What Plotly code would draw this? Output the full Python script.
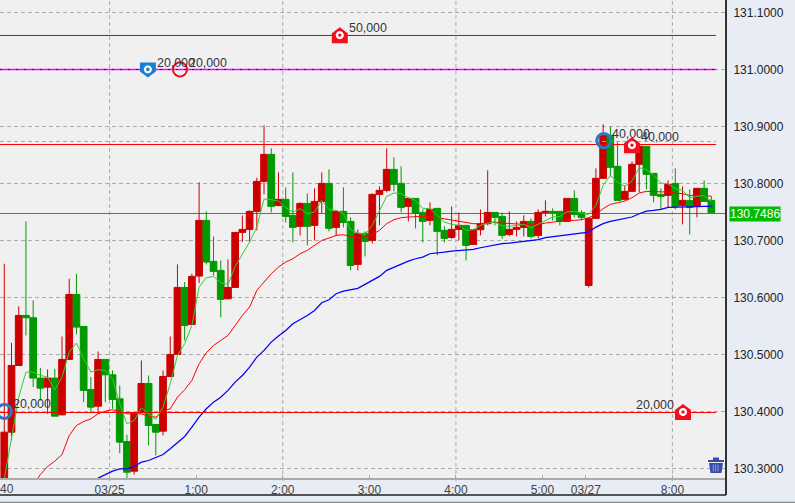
import math
import plotly.graph_objects as go

# --- data: 5-minute candles (prices) ---
opens = [130.27,130.3636,130.4806,130.5684,130.5643,130.4584,130.4426,130.4584,130.394,130.4912,
130.6052,130.5491,130.4385,130.4092,130.4912,130.4642,130.4221,130.3472,130.2952,130.3976,
130.449,130.3771,130.3654,130.4613,130.5,130.6175,130.5526,130.6374,130.7351,130.6631,
130.6474,130.5976,130.6175,130.714,130.7193,130.7509,130.8035,130.8509,130.7614,130.772,
130.7439,130.7246,130.7649,130.7263,130.7684,130.8,130.7228,130.7509,130.7333,130.6579,
130.7123,130.7,130.7807,130.7878,130.8246,130.8,130.7597,130.7737,130.7491,130.7351,
130.7562,130.7176,130.7053,130.7193,130.7263,130.693,130.7187,130.7293,130.7491,130.7421,
130.7105,130.7193,130.7228,130.7333,130.7088,130.7491,130.7509,130.7509,130.7333,130.7737,
130.7491,130.621,130.7386,130.8088,130.8843,130.8299,130.772,130.786,130.8334,130.865,
130.8176,130.7807,130.779,130.8,130.7614,130.7702,130.7597,130.7913,130.7702]
highs = [130.659,130.5204,130.5842,130.7333,130.5947,130.4765,130.4736,130.4748,130.5315,130.6327,
130.6415,130.5491,130.4602,130.5052,130.4912,130.4719,130.4455,130.359,130.3976,130.4894,
130.4631,130.3771,130.4719,130.5315,130.6579,130.6269,130.6415,130.8018,130.7509,130.707,
130.6649,130.6667,130.7146,130.7439,130.7527,130.81,130.9018,130.8615,130.8193,130.793,
130.8193,130.7667,130.7825,130.7913,130.8193,130.8246,130.7527,130.793,130.7404,130.7193,
130.7158,130.7825,130.7948,130.8615,130.8457,130.8299,130.7737,130.7737,130.7544,130.7667,
130.7562,130.7246,130.7597,130.7491,130.7263,130.7187,130.7544,130.8229,130.7491,130.7491,
130.7509,130.7333,130.7439,130.7386,130.7544,130.7702,130.7562,130.7509,130.7737,130.7878,
130.7527,130.7404,130.8264,130.9036,130.9,130.872,130.7965,130.8386,130.865,130.865,
130.8176,130.7913,130.8053,130.8264,130.7948,130.7895,130.7913,130.8053,130.7772]
lows = [130.26,130.349,130.4806,130.5333,130.4426,130.4192,130.3958,130.3917,130.3929,130.4912,
130.535,130.4163,130.3987,130.3958,130.4163,130.4046,130.3268,130.2829,130.2893,130.3976,
130.3402,130.3227,130.3578,130.4613,130.5,130.5245,130.5526,130.6251,130.6579,130.6386,
130.5654,130.5965,130.6163,130.6971,130.6971,130.7176,130.7807,130.7491,130.7597,130.7316,
130.6965,130.7088,130.6912,130.7,130.7474,130.7158,130.7088,130.7228,130.6474,130.6474,
130.6719,130.6947,130.7263,130.7842,130.786,130.7491,130.7333,130.7211,130.6965,130.7263,
130.6737,130.6965,130.7023,130.7,130.6649,130.693,130.7088,130.7263,130.7263,130.7029,
130.707,130.707,130.707,130.7035,130.7035,130.7421,130.7351,130.7263,130.7333,130.7404,
130.7351,130.6175,130.7386,130.8088,130.8123,130.7702,130.7702,130.786,130.7842,130.7895,
130.7667,130.7544,130.7579,130.7544,130.7281,130.7105,130.7404,130.7684,130.7486]
closes = [130.3636,130.4806,130.5684,130.5643,130.4584,130.4408,130.4584,130.3917,130.4912,130.6052,
130.5479,130.4368,130.4075,130.4912,130.4642,130.421,130.3461,130.2934,130.3976,130.449,
130.3753,130.3636,130.4613,130.5,130.6175,130.5508,130.6368,130.7351,130.662,130.6456,
130.5965,130.6175,130.714,130.7193,130.7509,130.8035,130.8509,130.7597,130.772,130.7421,
130.7228,130.7649,130.7246,130.7684,130.8,130.7211,130.7509,130.7316,130.6561,130.7123,
130.6982,130.7807,130.7878,130.8246,130.7983,130.7579,130.7737,130.7474,130.7333,130.7544,
130.7158,130.7035,130.7193,130.7263,130.6912,130.7187,130.7293,130.7491,130.7404,130.7088,
130.7193,130.7228,130.7333,130.707,130.7491,130.7509,130.7491,130.7333,130.7737,130.7456,
130.7404,130.7386,130.8088,130.8843,130.8281,130.7702,130.786,130.8334,130.865,130.8158,
130.779,130.7772,130.7983,130.7597,130.7702,130.7579,130.7913,130.7684,130.7486]
candle_index = list(range(len(opens)))

ma_fast = [130.2817,130.3549,130.425,130.4689,130.4689,130.4631,130.4602,130.4379,130.4602,130.504,
130.5198,130.4923,130.4689,130.473,130.4719,130.4572,130.4134,130.3783,130.3841,130.4063,
130.3958,130.3859,130.4075,130.4485,130.4982,130.5187,130.5508,130.6181,130.6345,130.6368,
130.6257,130.6228,130.6544,130.6766,130.6971,130.7234,130.7725,130.7714,130.769,130.7573,
130.7497,130.7556,130.7468,130.7497,130.7702,130.7538,130.7527,130.7468,130.7187,130.7129,
130.7105,130.7263,130.7527,130.7772,130.7831,130.7819,130.7749,130.7702,130.7562,130.7556,
130.7439,130.7322,130.7281,130.7263,130.7176,130.7187,130.7263,130.7304,130.7322,130.7257,
130.7246,130.7263,130.7281,130.7222,130.7281,130.7351,130.741,130.7421,130.7503,130.7509,
130.748,130.7456,130.7614,130.7965,130.8141,130.8024,130.7948,130.8041,130.8275,130.824,
130.8141,130.8006,130.7995,130.7907,130.7878,130.7749,130.7772,130.779,130.769]
ma_mid = [None,None,None,None,130.27,130.2893,130.3034,130.3127,130.3244,130.3578,
130.3753,130.3823,130.387,130.3958,130.4005,130.4028,130.4005,130.3958,130.3958,130.3958,
130.3917,130.3899,130.4005,130.4046,130.425,130.4379,130.4543,130.4836,130.5029,130.5157,
130.5245,130.5333,130.5508,130.5684,130.583,130.6123,130.6269,130.6415,130.6532,130.662,
130.6678,130.6766,130.6825,130.6912,130.7,130.7041,130.7088,130.7099,130.707,130.7047,
130.7059,130.7105,130.7176,130.7293,130.7363,130.7398,130.741,130.7421,130.7421,130.7421,
130.7398,130.7374,130.7351,130.7333,130.7304,130.7293,130.7293,130.731,130.7322,130.7304,
130.7293,130.7281,130.7281,130.7281,130.7281,130.7304,130.7322,130.7333,130.7351,130.7351,
130.7363,130.7398,130.7456,130.7556,130.7632,130.7661,130.769,130.7749,130.7831,130.786,
130.786,130.7848,130.7848,130.7831,130.7819,130.779,130.779,130.779,130.7772]
ma_slow = [None,None,None,None,None,None,None,None,None,None,
None,None,None,130.2829,130.2893,130.2952,130.2993,130.2993,130.3034,130.311,
130.3139,130.3186,130.3244,130.3344,130.3461,130.356,130.3724,130.3899,130.4046,130.4163,
130.425,130.4368,130.4514,130.4631,130.4777,130.4953,130.507,130.5216,130.5321,130.542,
130.5537,130.5608,130.5684,130.5772,130.5906,130.5959,130.6064,130.6111,130.6128,130.6158,
130.6228,130.6298,130.6368,130.6474,130.6532,130.6591,130.6637,130.6678,130.6708,130.6766,
130.6777,130.6795,130.6813,130.6825,130.6836,130.6842,130.6871,130.6895,130.693,130.6942,
130.6953,130.6965,130.6982,130.6994,130.7012,130.7047,130.7064,130.7082,130.7105,130.7123,
130.7135,130.7146,130.7234,130.7293,130.7333,130.7363,130.738,130.741,130.7468,130.7515,
130.7527,130.7544,130.7579,130.7579,130.7585,130.7585,130.7591,130.7597,130.7597]

price_ticks = [130.3,130.4,130.5,130.6,130.7,130.8,130.9,131.0,131.1]
time_ticks = [14.6,26.6,38.6,50.6,62.6,74.6,80.6,92.6]
time_labels = ["03/25","1:00","2:00","3:00","4:00","5:00","03/27","8:00"]
grid_times = [14.6,38.6,62.6,92.6]
last_price = 130.7486
last_line = 130.7472

# order lines: price, colour, dash, width
order_lines = [(131.0595,"#e00000",None,1),(130.9998,"#ff00ff",None,1.4),(130.9998,"#0000ff","2px,6px",1),
               (130.8735,"#22ddee","4px,3px",1),(130.8682,"#ff0000",None,1),(130.3981,"#ff0000",None,1)]
# order markers: candle position, price, kind, label, label dx, label dy
order_marks = [(46.5,131.06,"house","50,000",7,7),(19.9,131.0,"flag","20,000",7,6),
               (24.35,131.0,"ring_red","20,000",7,6),(83.1,130.875,"ring_blue","40,000",6,7),
               (87.0,130.867,"house","40,000",7,8),(94.07,130.399,"house","20,000",-49,7),
               (0.0,130.4,"ring_blue","20,000",7,7)]

PLOT_W, PLOT_H = 726, 478
fig = go.Figure()
fig.add_trace(go.Candlestick(
    x=candle_index, open=opens, high=highs, low=lows, close=closes, whiskerwidth=0,
    increasing=dict(line=dict(color="#cc0000",width=1),fillcolor="#cc0000"),
    decreasing=dict(line=dict(color="#009900",width=1),fillcolor="#009900"),
    hoverinfo="skip", showlegend=False))
for vals,col,w in [(ma_slow,"#0000ff",1.25),(ma_mid,"#ff0000",1),(ma_fast,"#33cc33",1)]:
    fig.add_trace(go.Scatter(x=candle_index,y=vals,mode="lines",line=dict(color=col,width=w),
                             hoverinfo="skip",showlegend=False))

shapes = []
GRID = "#aaaaaa"
for t in grid_times:
    shapes.append(dict(type="line",xref="x",yref="paper",x0=t,x1=t,y0=-3/PLOT_H,y1=1,layer="below",
                       line=dict(color=GRID,width=1,dash="4px,3px")))
shapes.append(dict(type="line",xref="paper",yref="y",x0=0,x1=1,y0=last_line,y1=last_line,layer="below",
                   line=dict(color="#11aa11",width=1)))
for p,c,d,w in order_lines:
    shapes.append(dict(type="line",xref="x",yref="y",x0=-0.6,x1=98.65,y0=p,y1=p,layer="above",
                       line=dict(color=c,width=w,dash=d or "solid")))

def pix(x,y,path,fill=None,line=None,width=0):
    return dict(type="path",xref="x",yref="y",xsizemode="pixel",ysizemode="pixel",xanchor=x,yanchor=y,
                path=path,fillcolor=fill or "rgba(0,0,0,0)",
                line=dict(color=line or "rgba(0,0,0,0)",width=width),layer="above")
def circ(r):
    pts = [(r*math.cos(2*math.pi*k/28), r*math.sin(2*math.pi*k/28)) for k in range(28)]
    return "M" + " L".join(f"{a:.2f},{b:.2f}" for a,b in pts) + " Z"

annots = []
for x,p,kind,label,dx,dy in order_marks:
    if kind=="house":
        shapes.append(pix(x,p,"M-8,-8 L8,-8 L8,2 L0,8 L-8,2 Z","#f01020"))
        shapes.append(pix(x,p,circ(4),"#ffffff"))
        shapes.append(pix(x,p,circ(1.6),"#e01020"))
    elif kind=="flag":
        shapes.append(pix(x,p,"M-8,7 L8,7 L8,-2 L0,-8 L-8,-2 Z","#1a7fd0"))
        shapes.append(pix(x,p,circ(4),"#ffffff"))
        shapes.append(pix(x,p,circ(1.8),"#1a7fd0"))
    elif kind=="ring_red":
        shapes.append(pix(x,p,circ(7),None,"#f01020",2))
    else:
        shapes.append(pix(x,p,circ(7),None,"#2a78c8",3))
    annots.append(dict(x=x,y=p,xref="x",yref="y",text=label,showarrow=False,xanchor="left",yanchor="middle",
                       xshift=dx,yshift=dy,font=dict(family="Liberation Sans",size=12.4,color="#33333c")))

# trash icon
ax, ay = 716/PLOT_W, 13/PLOT_H
def trash(path,fill):
    return dict(type="path",xref="paper",yref="paper",xsizemode="pixel",ysizemode="pixel",xanchor=ax,yanchor=ay,
                path=path,fillcolor=fill,line=dict(color="rgba(0,0,0,0)",width=0),layer="above")
shapes.append(trash("M-8,5 L8,5 L8,3 L-8,3 Z M-3,7.5 L3,7.5 L3,5 L-3,5 Z","#3a4aa8"))
shapes.append(trash("M-7,2 L7,2 L5.5,-8 L-5.5,-8 Z","#3a4aa8"))
for s in (-3.2,-0.8,1.6):
    shapes.append(trash(f"M{s},0.5 L{s+0.9},0.5 L{s+0.9},-6.5 L{s},-6.5 Z","#9aa4dc"))

# frame
shapes += [
    dict(type="line",xref="paper",yref="paper",x0=1,x1=1,y0=-17/PLOT_H,y1=1,line=dict(color="#333333",width=2),layer="above"),
    dict(type="line",xref="paper",yref="paper",x0=0,x1=1,y0=-17/PLOT_H,y1=-17/PLOT_H,line=dict(color="#222222",width=1.5),layer="above"),
    dict(type="line",xref="paper",yref="paper",x0=0,x1=795/PLOT_W,y0=-24.5/PLOT_H,y1=-24.5/PLOT_H,line=dict(color="#888888",width=1.5),layer="above"),
]

annots.append(dict(x=0,y=-10.5/PLOT_H,xref="paper",yref="paper",text="40",showarrow=False,xanchor="left",xshift=-2,
                   yanchor="middle",font=dict(family="Liberation Sans",size=12,color="#444444")))
annots.append(dict(x=729/PLOT_W,y=last_price,xref="paper",yref="y",text=f"{last_price:.4f}",showarrow=False,xanchor="left",
                   yanchor="middle",yshift=-1,bgcolor="#00bb00",borderpad=0,
                   font=dict(family="Liberation Sans",size=12,color="#ffffff")))

fig.update_layout(
    width=795,height=503,margin=dict(l=0,r=69,t=0,b=25,autoexpand=False),
    paper_bgcolor="#e8ecf4",plot_bgcolor="#f0f0f0",boxgap=0.07,boxgroupgap=0,
    showlegend=False,shapes=shapes,annotations=annots,
    font=dict(family="Liberation Sans",size=12,color="#222222"),
    xaxis=dict(range=[-0.596,100.03],rangeslider=dict(visible=False),tickmode="array",tickvals=time_ticks,ticktext=time_labels,
               showgrid=False,zeroline=False,showline=True,linecolor="#aaaaaa",linewidth=1.5,ticks="inside",ticklen=3,
               tickcolor="#aaaaaa",tickfont=dict(family="Liberation Sans",size=12,color="#444444")),
    yaxis=dict(range=[130.2832,131.1217],side="right",tickmode="array",tickvals=price_ticks,
               ticktext=[f"{v:.4f}" for v in price_ticks],showgrid=True,gridcolor=GRID,griddash="4px,3px",gridwidth=1,
               zeroline=False,showline=False,ticks="outside",ticklen=4,tickcolor="rgba(0,0,0,0)",
               tickfont=dict(family="Liberation Sans",size=12,color="#222222")),
)
fig.write_html("out.html",config={"displayModeBar":False},
               post_script="document.body.style.margin='0';document.body.style.overflow='hidden';")
